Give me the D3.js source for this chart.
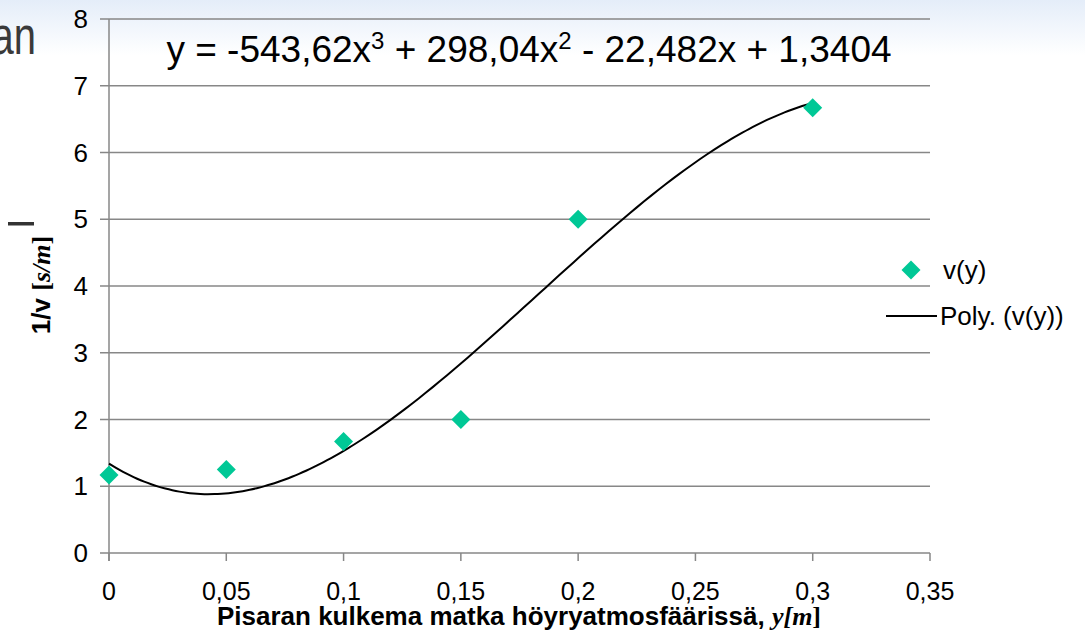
<!DOCTYPE html>
<html>
<head>
<meta charset="utf-8">
<script src="https://cdn.jsdelivr.net/npm/d3@7"></script>
<style>
  html, body { margin: 0; padding: 0; background: #fff; }
  svg { display: block; }
</style>
</head>
<body>
<svg id="chart" width="1085" height="639"></svg>
<script>
// Measured samples: distance y [m] and inverse speed 1/v [s/m]
const distances = [0, 0.05, 0.1, 0.15, 0.2, 0.3];
const inverseSpeed = [1.17, 1.25, 1.67, 2.0, 5.0, 6.67];

// Cubic trend coefficients (highest power first)
const trendCoefs = [-543.62, 298.04, -22.482, 1.3404];

const xTicks = [0, 0.05, 0.1, 0.15, 0.2, 0.25, 0.3, 0.35];
const yTicks = [0, 1, 2, 3, 4, 5, 6, 7, 8];

const W = 1085, H = 639;
const svg = d3.select("#chart");

// pale slide-header gradient
const defs = svg.append("defs");
const grad = defs.append("linearGradient").attr("id", "bg").attr("x1", 0).attr("x2", 0).attr("y1", 0).attr("y2", 1);
grad.append("stop").attr("offset", "0%").attr("stop-color", "#e4edf9");
grad.append("stop").attr("offset", "100%").attr("stop-color", "#ffffff");
svg.append("rect").attr("width", W).attr("height", 55).attr("fill", "url(#bg)");

const font = "Arial, 'Liberation Sans', sans-serif";
const serif = "'Liberation Serif', 'Times New Roman', serif";

// leftover slide text
svg.append("text").attr("transform", "translate(36,54) scale(1,1.35)").attr("text-anchor", "end")
  .attr("font-family", font).attr("font-size", 40).attr("fill", "#3a3a3a").text("an");
svg.append("rect").attr("x", 8).attr("y", 222).attr("width", 26).attr("height", 3.5).attr("fill", "#333");

const x = d3.scaleLinear().domain([0, 0.35]).range([109, 930]);
const y = d3.scaleLinear().domain([0, 8]).range([553, 19]);

const gridColor = "#878787";

// horizontal gridlines with outward tick stubs
svg.append("g").selectAll("line").data(yTicks).join("line")
  .attr("x1", 100).attr("x2", 930)
  .attr("y1", d => y(d)).attr("y2", d => y(d))
  .attr("stroke", gridColor).attr("stroke-width", 1.5);

// y axis line
svg.append("line").attr("x1", x(0)).attr("x2", x(0)).attr("y1", y(8)).attr("y2", y(0) + 8)
  .attr("stroke", gridColor).attr("stroke-width", 1.5);

// x tick marks
svg.append("g").selectAll("line").data(xTicks).join("line")
  .attr("x1", d => x(d)).attr("x2", d => x(d))
  .attr("y1", y(0)).attr("y2", y(0) + 8)
  .attr("stroke", gridColor).attr("stroke-width", 1.5);

const fmt = d => String(d).replace(".", ",");

svg.append("g").selectAll("text").data(yTicks).join("text")
  .attr("x", 88).attr("y", d => y(d) + 9)
  .attr("text-anchor", "end").attr("font-family", font).attr("font-size", 26).attr("fill", "#000")
  .text(d => d);

svg.append("g").selectAll("text").data(xTicks).join("text")
  .attr("x", d => x(d)).attr("y", 600)
  .attr("text-anchor", "middle").attr("font-family", font).attr("font-size", 25).attr("fill", "#000")
  .text(fmt);

// axis titles
const xt = svg.append("text").attr("x", 519).attr("y", 625)
  .attr("text-anchor", "middle").attr("font-family", font).attr("font-size", 26)
  .attr("font-weight", "bold").attr("fill", "#000");
xt.append("tspan").text("Pisaran kulkema matka höyryatmosfäärissä, ");
xt.append("tspan").attr("font-family", serif).attr("font-style", "italic").text("y[m");
xt.append("tspan").attr("font-family", serif).text("]");

const yt = svg.append("text").attr("transform", "translate(50,285) rotate(-90)")
  .attr("text-anchor", "middle").attr("font-family", font).attr("font-size", 26)
  .attr("font-weight", "bold").attr("fill", "#000");
yt.append("tspan").text("1/v ");
yt.append("tspan").attr("font-family", serif).text("[");
yt.append("tspan").attr("font-family", serif).attr("font-style", "italic").text("s/m");
yt.append("tspan").attr("font-family", serif).text("]");

// trend curve evaluated from the stated coefficients
const poly = t => trendCoefs.reduce((acc, c) => acc * t + c, 0);
const curveX = d3.range(0, 0.3 + 1e-9, 0.003);
const line = d3.line().x(d => x(d)).y(d => y(poly(d))).curve(d3.curveMonotoneX);
svg.append("path").datum(curveX).attr("d", line)
  .attr("fill", "none").attr("stroke", "#000").attr("stroke-width", 2);

// data markers
const diamond = d3.symbol().type(d3.symbolDiamond2).size(230);
svg.append("g").selectAll("path").data(distances.map((d, i) => [d, inverseSpeed[i]])).join("path")
  .attr("transform", d => `translate(${x(d[0])},${y(d[1])})`)
  .attr("d", diamond).attr("fill", "#00c896");

// equation label
const eq = svg.append("text").attr("x", 529).attr("y", 62)
  .attr("text-anchor", "middle").attr("font-family", font).attr("font-size", 37).attr("fill", "#000");
eq.append("tspan").text("y = -543,62x");
eq.append("tspan").attr("dy", -13).attr("font-size", 24).text("3");
eq.append("tspan").attr("dy", 13).text(" + 298,04x");
eq.append("tspan").attr("dy", -13).attr("font-size", 24).text("2");
eq.append("tspan").attr("dy", 13).text(" - 22,482x + 1,3404");

// legend
svg.append("path").attr("transform", "translate(911,270)").attr("d", diamond).attr("fill", "#00c896");
svg.append("text").attr("x", 943).attr("y", 279).attr("font-family", font).attr("font-size", 26).text("v(y)");
svg.append("line").attr("x1", 886).attr("x2", 937).attr("y1", 316).attr("y2", 316)
  .attr("stroke", "#000").attr("stroke-width", 2);
svg.append("text").attr("x", 940).attr("y", 325).attr("font-family", font).attr("font-size", 26).text("Poly. (v(y))");
</script>
</body>
</html>
